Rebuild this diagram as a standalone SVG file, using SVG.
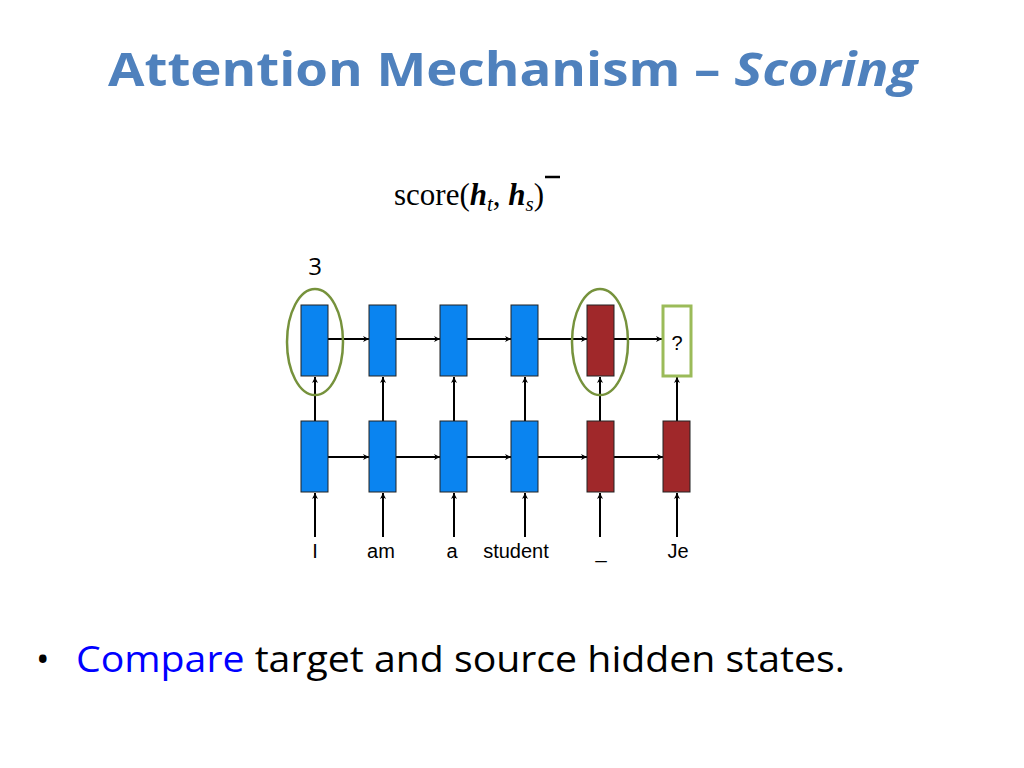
<svg xmlns="http://www.w3.org/2000/svg" width="1024" height="768" viewBox="0 0 1024 768">
<style>
.b{fill:#0A84F0;stroke:#222;stroke-width:1}
.r{fill:#A0282A;stroke:#222;stroke-width:1}
.c line{stroke:#000;stroke-width:2;marker-end:url(#a)}
.lb{font-family:"Liberation Sans",Arial,sans-serif;font-size:20px;text-anchor:middle}
.el{fill:none;stroke:#76923C;stroke-width:2.5}
</style>
<defs><marker id="a" viewBox="0 0 10 10" refX="10" refY="5" markerWidth="6" markerHeight="6" orient="auto" markerUnits="userSpaceOnUse" ><path d="M0,0L10,5L0,10L3,5z" fill="#000"/></marker></defs>
<rect width="1024" height="768" fill="#fff"/>
<text x="108" y="86" font-family="Open Sans,sans-serif" font-weight="bold" font-size="46" fill="#4F81BD" textLength="809" lengthAdjust="spacingAndGlyphs">Attention Mechanism – <tspan font-style="italic">Scoring</tspan></text>
<text x="394" y="205" font-family="Liberation Serif,serif" font-size="31">score(<tspan font-weight="bold" font-style="italic">h</tspan><tspan font-style="italic" font-size="21" dy="6">t</tspan><tspan dy="-6">, </tspan><tspan font-weight="bold" font-style="italic">h</tspan><tspan font-style="italic" font-size="21" dy="6">s</tspan><tspan dy="-6">)</tspan></text>
<line x1="545" y1="177" x2="560" y2="177" stroke="#000" stroke-width="2.5"/>
<text x="315" y="275" font-family="Open Sans,sans-serif" font-size="24" text-anchor="middle">3</text>
<g class="c">
<line x1="328" y1="339" x2="369" y2="339"/><line x1="396" y1="339" x2="440" y2="339"/><line x1="467" y1="339" x2="511" y2="339"/><line x1="538" y1="339" x2="587" y2="339"/><line x1="614" y1="339" x2="662" y2="339"/>
<line x1="328" y1="457" x2="369" y2="457"/><line x1="396" y1="457" x2="440" y2="457"/><line x1="467" y1="457" x2="511" y2="457"/><line x1="538" y1="457" x2="587" y2="457"/><line x1="614" y1="457" x2="663" y2="457"/>
<line x1="315" y1="421" x2="315" y2="377"/><line x1="383" y1="421" x2="383" y2="377"/><line x1="454" y1="421" x2="454" y2="377"/><line x1="525" y1="421" x2="525" y2="377"/><line x1="600" y1="421" x2="600" y2="377"/><line x1="677" y1="421" x2="677" y2="377"/>
<line x1="315" y1="537" x2="315" y2="493"/><line x1="383" y1="537" x2="383" y2="493"/><line x1="454" y1="537" x2="454" y2="493"/><line x1="525" y1="537" x2="525" y2="493"/><line x1="600" y1="537" x2="600" y2="493"/><line x1="677" y1="537" x2="677" y2="493"/>
</g>
<g id="top"><rect class="b" x="301" y="305" width="27" height="71"/><rect class="b" x="369" y="305" width="27" height="71"/><rect class="b" x="440" y="305" width="27" height="71"/><rect class="b" x="511" y="305" width="27" height="71"/><rect class="r" x="587" y="305" width="27" height="71"/>
<rect x="663" y="306" width="28" height="70" fill="#fff" stroke="#9BBB59" stroke-width="3"/><text class="lb" x="677" y="350">?</text></g>
<g id="bottom"><rect class="b" x="301" y="421" width="27" height="71"/><rect class="b" x="369" y="421" width="27" height="71"/><rect class="b" x="440" y="421" width="27" height="71"/><rect class="b" x="511" y="421" width="27" height="71"/><rect class="r" x="587" y="421" width="27" height="71"/><rect class="r" x="663" y="421" width="27" height="71"/></g>
<ellipse class="el" cx="315" cy="342" rx="28" ry="53"/>
<ellipse class="el" cx="600" cy="342" rx="28" ry="53"/>
<g class="lb"><text x="315" y="558">I</text><text x="381" y="558">am</text><text x="452" y="558">a</text><text x="516" y="558">student</text><text x="601" y="558">_</text><text x="678" y="558">Je</text></g>
<text x="36" y="672" font-family="Open Sans,sans-serif" font-size="36">•</text>
<text x="76" y="672" font-family="Open Sans,sans-serif" font-size="36" textLength="769" lengthAdjust="spacingAndGlyphs"><tspan fill="#0000FF">Compare</tspan> target and source hidden states.</text>
</svg>
